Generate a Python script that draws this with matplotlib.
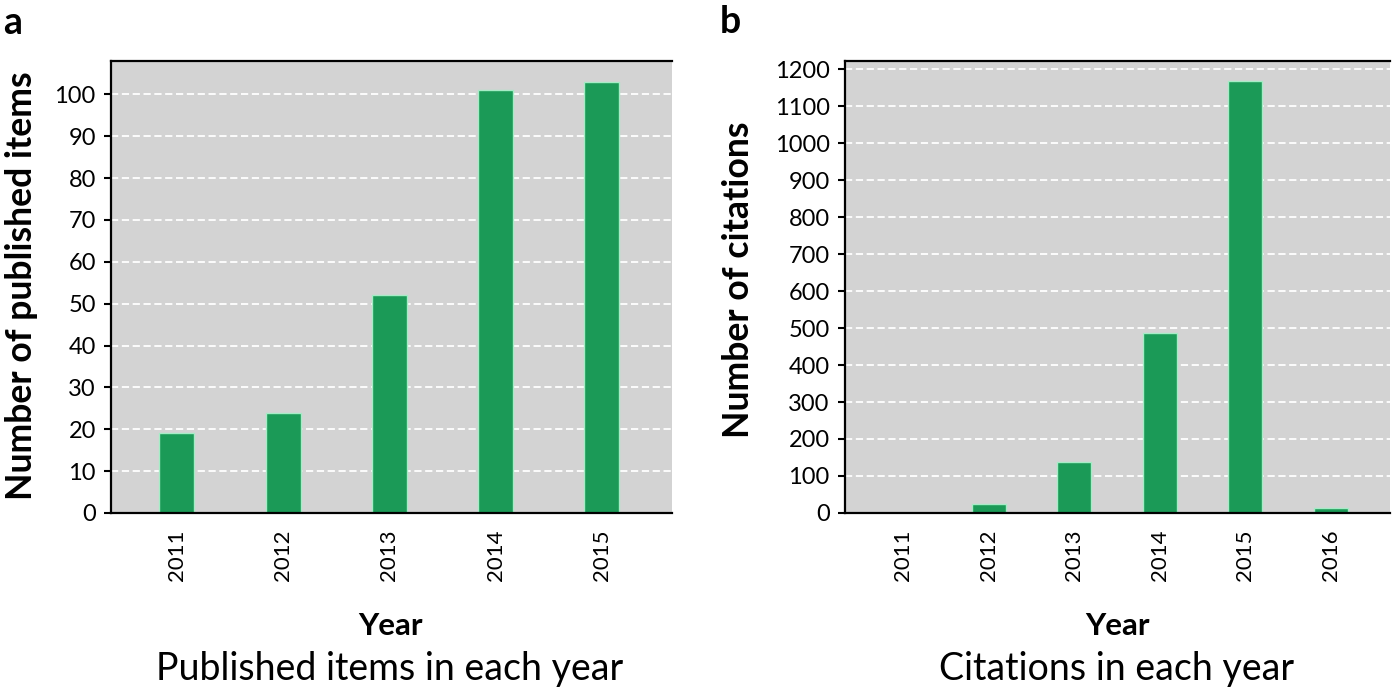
import matplotlib.pyplot as plt
import numpy as np

plt.rcParams['font.family'] = ['Lato', 'DejaVu Sans']

# data
years_a = ['2011', '2012', '2013', '2014', '2015']
items = [19, 24, 52, 101, 103]

years_b = ['2011', '2012', '2013', '2014', '2015', '2016']
citations = [0, 25, 138, 487, 1167, 13]

bar_color = '#1b9a57'
edge_color = '#a6ecc6'
bg = '#d3d3d3'

fig = plt.figure(figsize=(13.95, 6.88), dpi=100)
ax_a = fig.add_axes([0.0796, 0.2544, 0.4021, 0.657])
ax_b = fig.add_axes([0.6057, 0.2544, 0.3907, 0.657])


def style(ax, ticks):
    ax.set_facecolor(bg)
    ax.set_axisbelow(True)
    ax.yaxis.grid(True, color='white', linestyle=(0, (4, 2)), linewidth=1.3)
    ax.spines['right'].set_visible(False)
    for s in ['left', 'bottom', 'top']:
        ax.spines[s].set_linewidth(1.6)
        ax.spines[s].set_color('black')
    ax.set_yticks(ticks)
    ax.tick_params(axis='y', direction='out', length=5, width=1.5, labelsize=17, pad=6)
    ax.tick_params(axis='x', length=0, labelsize=16, rotation=90, pad=12)


# panel a
idx_a = np.arange(len(years_a))
ax_a.bar(idx_a, items, width=0.33, color=bar_color, edgecolor=edge_color, linewidth=1)
ax_a.set_xticks(idx_a)
ax_a.set_xticklabels(years_a)
style(ax_a, np.arange(0, 101, 10))
ax_a.set_xlim(-0.62, 4.66)
ax_a.set_ylim(0, 108)

# panel b
idx_b = np.arange(len(years_b))
ax_b.bar(idx_b, citations, width=0.40, color=bar_color, edgecolor=edge_color, linewidth=1)
ax_b.set_xticks(idx_b)
ax_b.set_xticklabels(years_b)
style(ax_b, np.arange(0, 1201, 100))
ax_b.set_xlim(-0.68, 5.69)
ax_b.set_ylim(0, 1222)

# labels
fig.text(22 / 1395, 1 - 286 / 688, 'Number of published items', rotation=90,
         ha='center', va='center', fontsize=25.7, fontweight='bold')
fig.text(739 / 1395, 1 - 280 / 688, 'Number of citations', rotation=90,
         ha='center', va='center', fontsize=25.7, fontweight='bold')

fig.text(390 / 1395, 1 - 626 / 688, 'Year', ha='center', va='center', fontsize=22.5, fontweight='bold')
fig.text(1117 / 1395, 1 - 626 / 688, 'Year', ha='center', va='center', fontsize=22.5, fontweight='bold')

fig.text(390 / 1395, 1 - 669 / 688, 'Published items in each year', ha='center', va='center', fontsize=27)
fig.text(1117 / 1395, 1 - 669 / 688, 'Citations in each year', ha='center', va='center', fontsize=27)

fig.text(13 / 1395, 1 - 23 / 688, 'a', ha='center', va='center', fontsize=27, fontweight='bold')
fig.text(730 / 1395, 1 - 22 / 688, 'b', ha='center', va='center', fontsize=27, fontweight='bold')

fig.savefig('out.png', dpi=100)
